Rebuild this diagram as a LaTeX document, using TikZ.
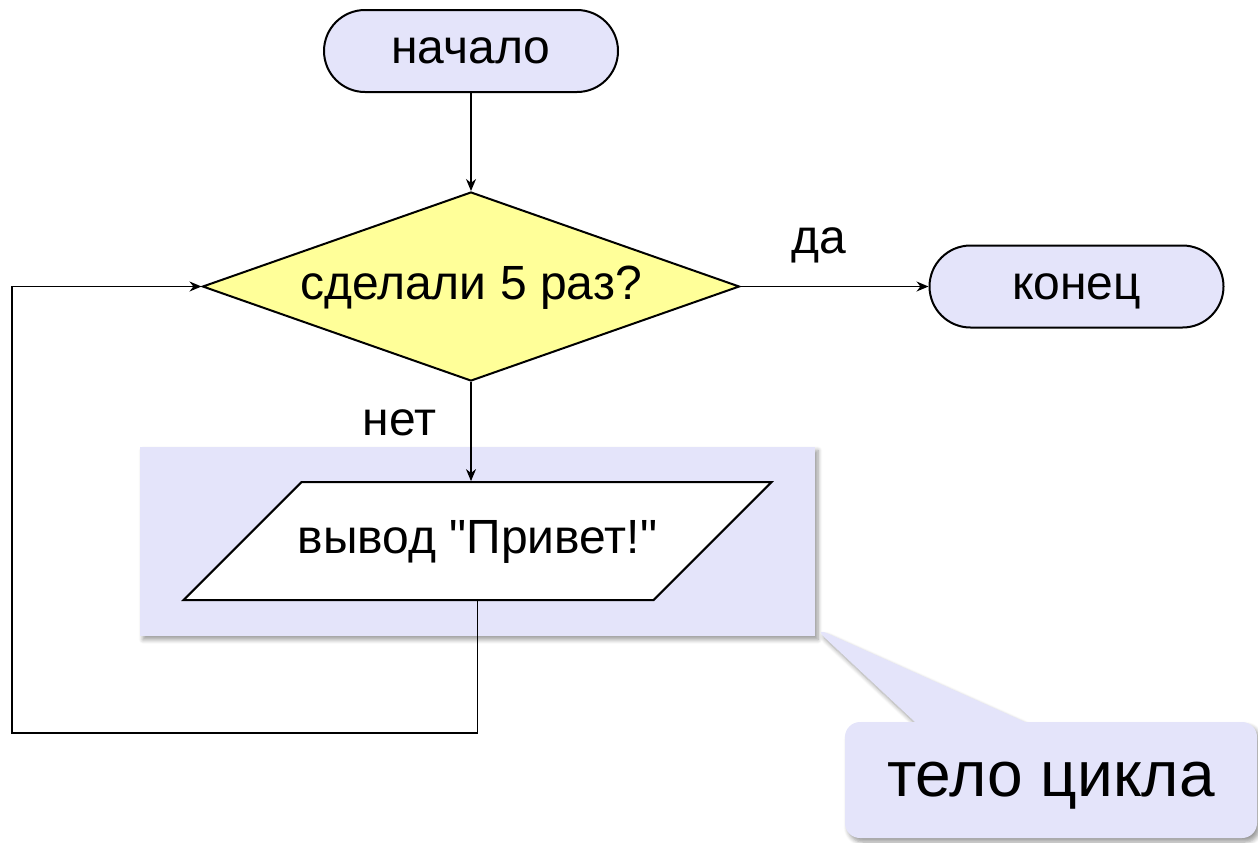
\documentclass[tikz,border=0pt]{standalone}
\usepackage{fontspec}
\setmainfont{Liberation Sans}
\newfontfamily\flowfont{Liberation Sans}
\usetikzlibrary{arrows.meta,positioning,shapes.geometric,shapes.callouts,shadows.blur}

\definecolor{blockblue}{RGB}{228,228,250}
\definecolor{condyellow}{RGB}{255,255,153}

\begin{document}
\begin{tikzpicture}[>={Stealth[length=6pt,width=5pt]},node distance=49pt,
                    line width=0.6pt,font=\flowfont\fontsize{24}{29}\selectfont,
                    every node/.style={text height=12.5pt,text depth=0pt},
                    term node/.style={rectangle,rounded corners=20.5pt,draw,line width=1pt,
                                      fill=blockblue,minimum width=147pt,minimum height=41pt},
                    cond node/.style={diamond,draw,line width=1pt,fill=condyellow,shape aspect=2.84,
                                      minimum width=268.5pt,minimum height=94.5pt,inner sep=0pt},
                    io node/.style={trapezium,trapezium left angle=45,trapezium right angle=135,
                                    draw,line width=1pt,fill=white,inner xsep=0pt,inner ysep=23.25pt},
                    body box/.style={fill=blockblue,minimum width=337.5pt,minimum height=94.5pt,
                                     blur shadow={shadow xshift=1.5pt,shadow yshift=-2pt,shadow blur steps=6}},
                    note/.style={rectangle callout,fill=blockblue,rounded corners=7.5pt,
                                 callout pointer width=55pt,minimum width=206pt,minimum height=58pt,
                                 font=\flowfont\fontsize{32}{38}\selectfont,text height=16.6pt,
                                 blur shadow={shadow xshift=1.5pt,shadow yshift=-2pt,shadow blur steps=6}}]

  \useasboundingbox (0,0) rectangle (629pt,-421pt);

  \node[term node] (start) at (235.5pt,-25.5pt) {начало};
  \node[cond node] (cond) [below=of start] {сделали 5 раз?};
  \node[term node] (stop) [right=94pt of cond] {конец};
  \node[body box] (body) [below=32pt of cond,xshift=3.25pt] {};
  \node[io node] (out) at (body) {\makebox[176pt]{вывод "Привет!"}};
  \coordinate (loopc) at (6pt,-366.5pt);

  \node[note,callout absolute pointer={([xshift=-1pt,yshift=4.5pt]body.south east)}] (bodynote)
    at (525.5pt,-390pt) {тело цикла};

  \draw[->] (start) -- (cond);
  \draw[->] (cond) -- node[above=16pt,pos=0.415,inner sep=0pt] {да} (stop);
  \draw[->] (cond.south) -- node[left=17pt,pos=0.41,inner sep=0pt] {нет} (cond.south |- out.north);
  \draw[->] (out.south) |- (loopc) |- (cond.west);
\end{tikzpicture}
\end{document}
